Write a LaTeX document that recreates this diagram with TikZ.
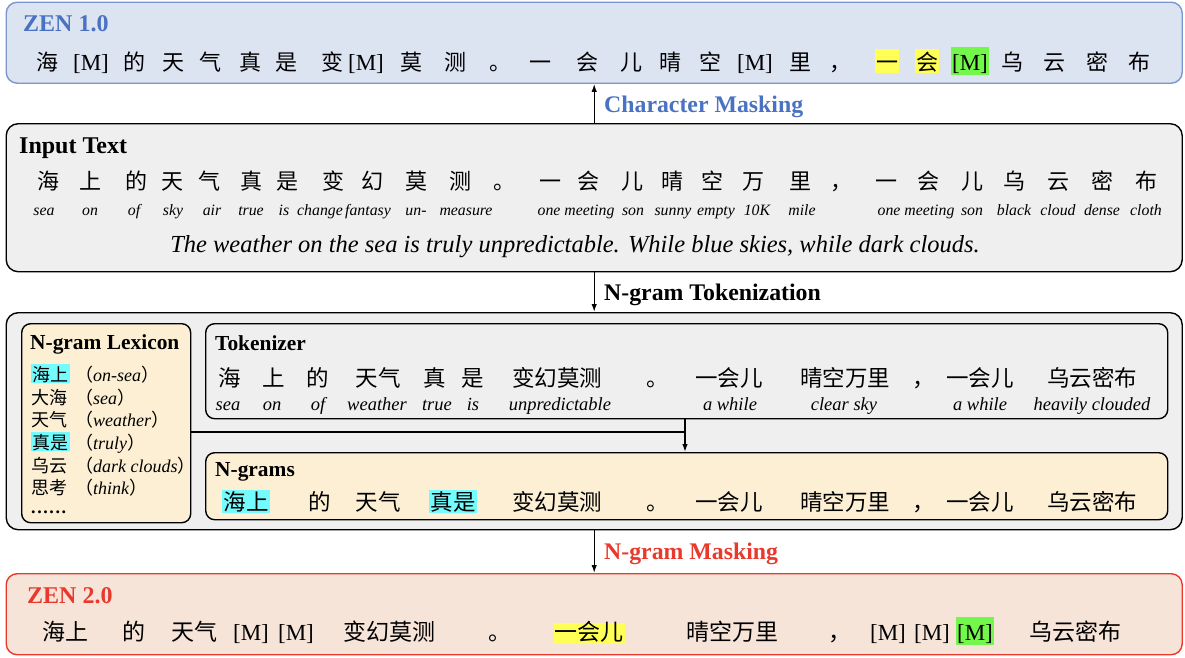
\documentclass[tikz,border=0pt]{standalone}
\usepackage{fontspec}
\setmainfont{Liberation Serif}
\newfontfamily\cjk{Noto Sans CJK SC}
\usetikzlibrary{arrows.meta}
\definecolor{zenblue}{HTML}{4A72C2}
\definecolor{bluefill}{HTML}{DCE3F1}
\definecolor{blueedge}{HTML}{7B97CF}
\definecolor{greyfill}{HTML}{EFEFEF}
\definecolor{goldfill}{HTML}{FCEFD4}
\definecolor{redfill}{HTML}{F6E4D9}
\definecolor{zenred}{HTML}{E8392C}
\definecolor{hlyellow}{HTML}{FFFF55}
\definecolor{hlgreen}{HTML}{74F74B}
\definecolor{hlcyan}{HTML}{74FBFD}
\newcommand\MM{{\rmfamily\fontsize{23}{26}\selectfont[M]}}
\newcommand\gi[1]{{\rmfamily\itshape #1}}
\tikzset{
  panel/.style={rounded corners=#1, line width=1.4pt, inner sep=0pt, anchor=north west},
  arr/.style={line width=1.4pt, -{Latex[length=8pt,width=5.5pt]}},
  ttl/.style={anchor=base west, inner sep=0pt, font=\bfseries\fontsize{24}{27}\selectfont},
  lbl/.style={anchor=base west, inner sep=0pt, font=\bfseries\fontsize{23.8}{27}\selectfont},
  subttl/.style={anchor=base west, inner sep=0pt, font=\bfseries\fontsize{21.4}{24}\selectfont},
  zh/.style={anchor=base, inner sep=0pt, font=\cjk\fontsize{22}{26}\selectfont},
  zhb/.style={anchor=base, inner sep=0pt, font=\cjk\fontsize{22.5}{26}\selectfont},
  zhc/.style={anchor=base, inner sep=0pt, font=\cjk\fontsize{23}{26}\selectfont},
  zhl/.style={anchor=base west, inner sep=0pt, font=\cjk\fontsize{18}{20}\selectfont},
  gl/.style={anchor=base, inner sep=0pt, font=\itshape\fontsize{15.8}{18}\selectfont},
  glb/.style={anchor=base, inner sep=0pt, font=\itshape\fontsize{18.5}{21}\selectfont},
  hly/.style={fill=hlyellow, text height=20pt, text depth=2pt, inner xsep=1pt, inner ysep=1pt},
  hlg/.style={fill=hlgreen, text height=22pt, text depth=4pt, inner xsep=1pt, inner ysep=1pt},
  hlc/.style={fill=hlcyan, text height=19pt, text depth=2pt, inner xsep=1.5pt, inner ysep=1pt},
}
\begin{document}
\begin{tikzpicture}[x=1pt,y=-1pt]
\useasboundingbox (0,0) rectangle (1185,657);
% panels
\node[panel=11pt, draw=blueedge, fill=bluefill, minimum width=1176pt, minimum height=81pt] (zen1) at (5.5,1.5) {};
\node[panel=12pt, draw=black, fill=greyfill, minimum width=1176pt, minimum height=148pt] (inp) at (5.5,123) {};
\node[panel=12pt, draw=black, fill=greyfill, minimum width=1176pt, minimum height=217pt] (big) at (5.5,312) {};
\node[panel=9pt, draw=black, fill=goldfill, minimum width=169pt, minimum height=199pt] (lex) at (21,323) {};
\node[panel=9pt, draw=black, fill=greyfill, minimum width=962pt, minimum height=95pt] (tok) at (205,323) {};
\node[panel=9pt, draw=black, fill=goldfill, minimum width=962pt, minimum height=67pt] (ngr) at (205,452) {};
\node[panel=11pt, draw=zenred, fill=redfill, minimum width=1176pt, minimum height=81pt] (zen2) at (5.5,573) {};
% arrows
\draw[arr] (inp.north) -- (zen1.south);
\draw[arr] (inp.south) -- (big.north);
\draw[arr] (big.south) -- (zen2.north);
\coordinate (j) at (685,432);
\draw[line width=1.4pt] (lex.east |- j) -- (j);
\draw[arr] (tok.south -| j) -- (ngr.north -| j);
% labels
\node[lbl, text=zenblue] (lcm) at (604,112) {Character Masking};
\node[lbl] (lnt) at (604,300) {N-gram Tokenization};
\node[lbl, text=zenred] (lnm) at (604,559) {N-gram Masking};
% ZEN 1.0
\node[ttl, text=zenblue] (t1) at (23,31) {ZEN 1.0};
\foreach \x/\t [count=\i] in {47/海,91/\MM,134/的,173/天,210/气,250/真,286/是,332/变,366/\MM,411/莫,455/测,500/。,540/一,587/会,631/儿,670/晴,710/空,755/\MM,800/里,840/，,1012/乌,1054/云,1097/密,1139/布}
  \node[zh] (za\i) at (\x,70) {\t};
\node[zh, hly] (zy1) at (887,70) {一};
\node[zh, hly] (zy2) at (927,70) {会};
\node[zh, hlg] (zg1) at (970,70) {\MM};
% Input text
\node[ttl] (t2) at (19,153) {Input Text};
\foreach \x/\t [count=\i] in {48/海,90/上,136/的,172/天,209/气,251/真,287/是,333/变,372/幻,416/莫,460/测,504/。,550/一,588/会,632/儿,672/晴,712/空,753/万,800/里,841/，,886/一,928/会,972/儿,1014/乌,1058/云,1102/密,1146/布}
  \node[zh] (ia\i) at (\x,189) {\t};
\foreach \x/\t [count=\i] in {44/sea,90/on,134/of,173/sky,212/air,251/true,284/is,320/change,368/fantasy,416/un-,466/measure,576/one meeting,633/son,673/sunny,716/empty,757/10K,802/mile,916/one meeting,972/son,1014/black,1058/cloud,1102/dense,1146/cloth}
  \node[gl] (ig\i) at (\x,215) {\t};
\node[anchor=base, inner sep=0pt, font=\itshape\fontsize{24.5}{28}\selectfont] (sent) at (575,252) {The weather on the sea is truly unpredictable. While blue skies, while dark clouds.};
% Lexicon
\node[subttl] (t3) at (30,349) {N-gram Lexicon};
\node[zhl, hlc, text height=16pt, text depth=1pt] (lx1) at (31,381) {海上};
\node[zhl] (lp1) at (75,381) {（\gi{on-sea}）};
\node[zhl] (lx2) at (31,404) {大海};
\node[zhl] (lp2) at (75,404) {（\gi{sea}）};
\node[zhl] (lx3) at (31,426) {天气};
\node[zhl] (lp3) at (75,426) {（\gi{weather}）};
\node[zhl, hlc, text height=16pt, text depth=1pt] (lx4) at (31,449) {真是};
\node[zhl] (lp4) at (75,449) {（\gi{truly}）};
\node[zhl] (lx5) at (31,472) {乌云};
\node[zhl] (lp5) at (75,472) {（\gi{dark clouds}）};
\node[zhl] (lx6) at (31,494) {思考};
\node[zhl] (lp6) at (75,494) {（\gi{think}）};
\node[anchor=base west, inner sep=0pt, font=\bfseries\fontsize{18}{20}\selectfont] (ldots) at (31,513) {.\kern1.6pt.\kern1.6pt.\kern1.6pt.\kern1.6pt.\kern1.6pt.};
% Tokenizer
\node[subttl] (t4) at (215,350) {Tokenizer};
\foreach \x/\t [count=\i] in {230/海,274/上,318/的,378/天气,435/真,473/是,557/变幻莫测,658/。,729/一会儿,845/晴空万里,924/，,980/一会儿,1092/乌云密布}
  \node[zhb] (ka\i) at (\x,386) {\t};
\foreach \x/\t [count=\i] in {228/sea,272/on,318/of,377/weather,437/true,473/is,560/unpredictable,730/a while,844/clear sky,980/a while,1092/heavily clouded}
  \node[glb] (kg\i) at (\x,410) {\t};
% N-grams
\node[subttl] (t5) at (215,476) {N-grams};
\node[zhb, hlc] (nc1) at (246,510) {海上};
\node[zhb, hlc] (nc2) at (453,510) {真是};
\foreach \x/\t [count=\i] in {320/的,378/天气,557/变幻莫测,658/。,729/一会儿,845/晴空万里,924/，,980/一会儿,1092/乌云密布}
  \node[zhb] (na\i) at (\x,510) {\t};
% ZEN 2.0
\node[ttl, text=zenred] (t6) at (27,603) {ZEN 2.0};
\foreach \x/\t [count=\i] in {65/海上,134/的,194/天气,251/\MM,296/\MM,389/变幻莫测,500/。,732/晴空万里,840/，,888/\MM,932/\MM,1075/乌云密布}
  \node[zhc] (ba\i) at (\x,640) {\t};
\node[zhc, hly, text height=17pt, text depth=3pt, inner ysep=0.5pt] (by1) at (589,640) {一会儿};
\node[zhc, hlg] (bg1) at (975,640) {\MM};
\end{tikzpicture}
\end{document}
